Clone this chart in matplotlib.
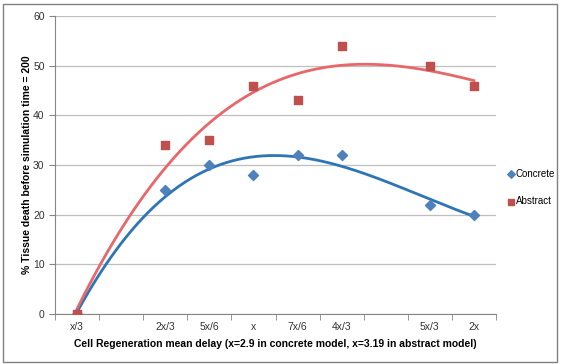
import numpy as np
import matplotlib
matplotlib.use("Agg")
import matplotlib.pyplot as plt
from matplotlib.patches import Rectangle

# category slots on the x axis (two slots carry no label)
slot_labels = ["x/3", "", "2x/3", "5x/6", "x", "7x/6", "4x/3", "", "5x/3", "2x"]
point_slots = [0, 2, 3, 4, 5, 6, 8, 9]

concrete = [0, 25, 30, 28, 32, 32, 22, 20]
abstract = [0, 34, 35, 46, 43, 54, 50, 46]

BLUE = "#4F81BD"
BLUE_LINE = "#2E75B6"
RED = "#C0504D"
RED_LINE = "#E8676A"
GRID = "#BFBFBF"

plt.rcParams["font.family"] = ["Liberation Sans", "DejaVu Sans"]

W, H = 562, 364
fig = plt.figure(figsize=(W / 100, H / 100), dpi=100)
fig.patch.set_facecolor("white")
fig.add_artist(Rectangle((3 / W, 2 / H), 554 / W, 358 / H, transform=fig.transFigure,
                         fill=False, edgecolor="#808080", linewidth=1.0))

ax = fig.add_axes([55 / W, 50 / H, 441 / W, 298 / H])

# cubic trendlines, fitted on the category slots
xs = np.array(point_slots, dtype=float)
xx = np.linspace(xs.min(), xs.max(), 200)
for vals, lc in [(concrete, BLUE_LINE), (abstract, RED_LINE)]:
    coef = np.polyfit(xs, vals, 3)
    ax.plot(xx, np.polyval(coef, xx), color=lc, linewidth=2, zorder=2)

ax.scatter(xs, concrete, marker="D", s=26, color=BLUE, zorder=3, label="Concrete")
ax.scatter(xs, abstract, marker="s", s=40, color=RED, zorder=3, label="Abstract")

ax.set_xlim(-0.5, 9.5)
ax.set_ylim(0, 60)
ax.set_yticks(range(0, 61, 10))
ax.set_xticks(range(10))
ax.set_xticklabels(slot_labels)
ax.set_xticks(np.arange(-0.5, 10, 1), minor=True)
ax.tick_params(axis="x", which="major", length=0, labelsize=7.5, pad=6, colors="#333333")
ax.tick_params(axis="x", which="minor", length=4, color="#868686")
ax.tick_params(axis="y", length=4, labelsize=7.5, color="#868686", labelcolor="#333333")

ax.grid(axis="y", color=GRID, linewidth=0.9)
ax.set_axisbelow(True)
for side in ["top", "right"]:
    ax.spines[side].set_visible(False)
for side in ["left", "bottom"]:
    ax.spines[side].set_color("#868686")

ax.set_xlabel("Cell Regeneration mean delay (x=2.9 in concrete model, x=3.19 in abstract model)",
              fontsize=7.5, fontweight="bold", labelpad=5)
ax.set_ylabel("% Tissue death before simulation time = 200", fontsize=7.5, fontweight="bold",
              labelpad=1)

ax.legend(loc="center left", bbox_to_anchor=(1.015, 0.425), frameon=False, fontsize=7,
          handletextpad=0.05, handlelength=0.8, labelspacing=1.8, markerscale=0.75,
          borderpad=0)

fig.savefig("out.png", dpi=100)
